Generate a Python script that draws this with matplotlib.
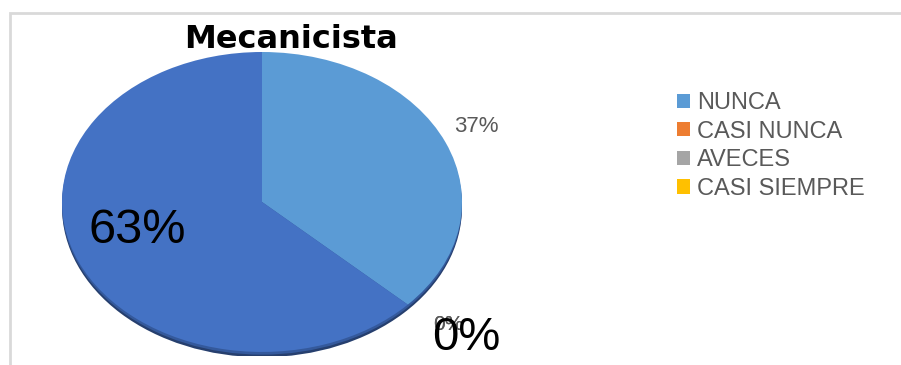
import matplotlib.pyplot as plt
from matplotlib.patches import Ellipse, Rectangle

categorias = ['NUNCA', 'CASI NUNCA', 'AVECES', 'CASI SIEMPRE', 'SIEMPRE']
porcentajes = [37, 0, 0, 0, 63]
colores = ['#5B9BD5', '#ED7D31', '#A5A5A5', '#FFC000', '#4472C4']
en_leyenda = 4

W, H = 901, 365
fig = plt.figure(figsize=(W / 100, H / 100), dpi=100)

# marco gris del grafico
fig.patches.append(Rectangle((10 / W, -0.2), 1.2, (H - 13) / H + 0.2, transform=fig.transFigure,
                             fill=False, edgecolor='#D9D9D9', linewidth=2.0))

# ejes del pastel (elipse 400x300 px)
ax = fig.add_axes([62 / W, 9 / H, 400 / W, 304 / H])

# borde inferior oscuro para dar relieve
ax.add_patch(Ellipse((0, -0.035), 2.0, 2.0, facecolor='#263F6E', edgecolor='none', zorder=0))
ax.add_patch(Ellipse((0, -0.018), 2.0, 2.0, facecolor='#34599C', edgecolor='none', zorder=0))

wedges, _ = ax.pie(porcentajes, colors=colores, startangle=90, counterclock=False,
                   radius=1, frame=True, wedgeprops=dict(linewidth=0))
ax.set_xlim(-1, 1)
ax.set_ylim(-1.027, 1)
ax.set_aspect('auto')
ax.axis('off')

# etiquetas de porcentaje
lab = dict(family='Liberation Sans', ha='center', va='center')
ax.text(1.07, 0.5, f'{porcentajes[0]}%', fontsize=16, color='#595959', **lab)
ax.text(-0.625, -0.19, f'{porcentajes[4]}%', fontsize=35, color='black', **lab)
ax.text(0.93, -0.82, f'{porcentajes[1]}%', fontsize=15, color='#595959', **lab)
ax.text(0.93, -0.82, f'{porcentajes[2]}%', fontsize=15, color='#595959', **lab)
ax.text(1.02, -0.905, f'{porcentajes[3]}%', fontsize=34, color='black', **lab)

fig.text(291 / W, 1 - 39 / H, 'Mecanicista', fontsize=23, fontweight='bold',
         family='DejaVu Sans', ha='center', va='center')

leg = fig.legend(wedges[:en_leyenda], categorias[:en_leyenda], loc='upper left',
                 bbox_to_anchor=(677 / W, 1 - 92 / H), frameon=False,
                 prop=dict(family='Liberation Sans', size=17),
                 handlelength=0.55, handleheight=0.55, handletextpad=0.3,
                 labelspacing=0.28, borderpad=0, borderaxespad=0)
for t in leg.get_texts():
    t.set_color('#595959')

fig.savefig('out.png', dpi=100)
